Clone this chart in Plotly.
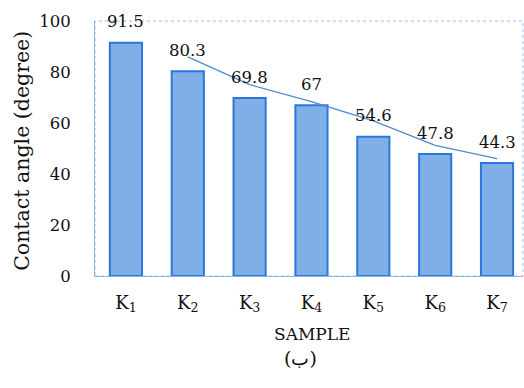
import plotly.graph_objects as go

# Contact angle per sample
samples = ["K<sub>1</sub>", "K<sub>2</sub>", "K<sub>3</sub>", "K<sub>4</sub>",
           "K<sub>5</sub>", "K<sub>6</sub>", "K<sub>7</sub>"]
angles = [91.5, 80.3, 69.8, 67, 54.6, 47.8, 44.3]
angle_labels = ["91.5", "80.3", "69.8", "67", "54.6", "47.8", "44.3"]
y_ticks = [0, 20, 40, 60, 80, 100]

# Two-period moving average trendline
ma_x = samples[1:]
ma_y = [(angles[i - 1] + angles[i]) / 2 for i in range(1, len(angles))]

serif = "DejaVu Serif"

fig = go.Figure()
fig.add_trace(go.Bar(
    x=samples, y=angles, width=0.52,
    marker=dict(color="#80afe8", line=dict(color="#2a78da", width=2)),
    hoverinfo="skip",
))
fig.add_trace(go.Scatter(
    x=ma_x, y=ma_y, mode="lines",
    line=dict(color="#4d8ccc", width=1.3),
    hoverinfo="skip",
))

for s, v, t in zip(samples, angles, angle_labels):
    fig.add_annotation(x=s, y=v, text=t, showarrow=False, yshift=21,
                       font=dict(family=serif, size=16.5, color="#111"))

# Plot frame
fig.add_shape(type="rect", xref="paper", yref="paper", x0=0, y0=0, x1=1, y1=1,
              line=dict(color="#9cc0e8", width=1, dash="dot"), layer="below")

fig.add_annotation(xref="paper", yref="paper", x=-0.171, y=0.49,
                   xanchor="center", yanchor="middle",
                   text="Contact angle (degree)", textangle=-90, showarrow=False,
                   font=dict(family=serif, size=20.5, color="#111"))
fig.add_annotation(xref="paper", yref="paper", x=0.507, y=-0.228,
                   xanchor="center", yanchor="middle",
                   text="SAMPLE", showarrow=False,
                   font=dict(family=serif, size=17, color="#111"))
fig.add_annotation(xref="paper", yref="paper", x=0.481, y=-0.322,
                   xanchor="center", yanchor="middle",
                   text="(ب)", showarrow=False,
                   font=dict(family=serif, size=19, color="#111"))

fig.update_layout(
    width=524, height=388,
    margin=dict(l=95, r=1, t=21, b=112),
    paper_bgcolor="white", plot_bgcolor="white",
    showlegend=False,
    bargap=0.48,
    font=dict(family=serif),
    xaxis=dict(range=[-0.5, 6.42], showgrid=False, showline=True,
               linecolor="#8db8e8", linewidth=1, ticks="",
               ticklabelstandoff=10,
               tickfont=dict(family=serif, size=18, color="#111")),
    yaxis=dict(range=[0, 100], tickvals=y_ticks, showgrid=False,
               showline=True, linecolor="#8db8e8", linewidth=1, ticks="",
               zeroline=False, ticklabelstandoff=20,
               tickfont=dict(family=serif, size=16.5, color="#111")),
)

fig.write_html("out.html")
